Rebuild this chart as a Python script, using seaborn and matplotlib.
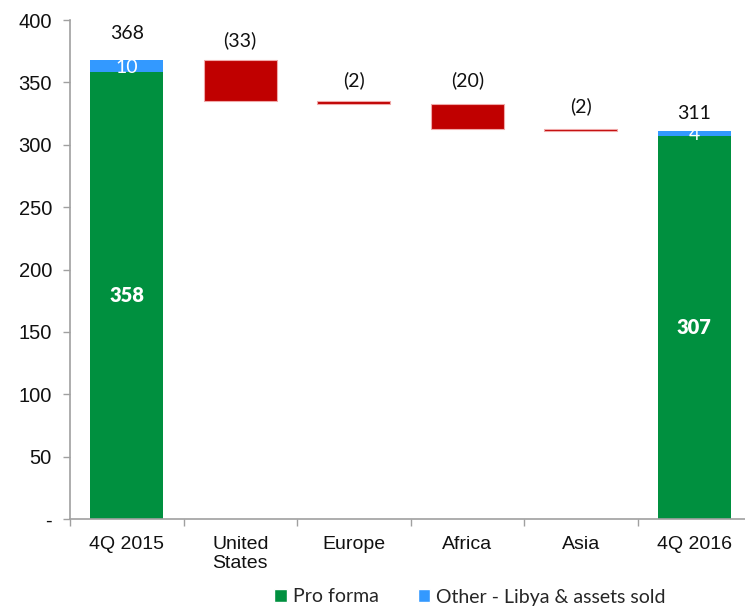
import matplotlib
matplotlib.use("Agg")
import matplotlib.pyplot as plt
from matplotlib.patches import Patch
import numpy as np
import pandas as pd
import seaborn as sns

# Production bridge (kboe/d), 4Q 2015 -> 4Q 2016
categories = ["4Q 2015", "United\nStates", "Europe", "Africa", "Asia", "4Q 2016"]
pro_forma = [358, 307]          # green part of the two total bars
other_sold = [10, 4]            # Libya & assets sold (blue cap)
changes = [-33, -2, -20, -2]    # regional movements

GREEN = "#00903F"
BLUE = "#3399FF"
RED = "#C00000"

sns.set_theme(style="white")
plt.rcParams["font.family"] = ["Liberation Sans", "DejaVu Sans"]

totals = [p + o for p, o in zip(pro_forma, other_sold)]
start = totals[0]
tops = start + np.concatenate([[0], np.cumsum(changes)[:-1]])
bottoms = tops + np.array(changes)

total_df = pd.DataFrame({
    "cat": [categories[0], categories[-1]],
    "pro_forma": pro_forma,
    "other": other_sold,
    "total": totals,
})
delta_df = pd.DataFrame({
    "cat": categories[1:-1],
    "height": -np.array(changes),
    "base": bottoms,
})

fig = plt.figure(figsize=(7.45, 6.07), dpi=100)
ax = fig.add_axes([70 / 745, 88 / 607, 681 / 745, 499 / 607])

order = categories
bw = 0.64
# total bars: blue full height, green pro-forma on top of it
sns.barplot(data=total_df, x="cat", y="total", order=order, color=BLUE,
            width=bw, saturation=1, ax=ax, linewidth=0)
sns.barplot(data=total_df, x="cat", y="pro_forma", order=order, color=GREEN,
            width=bw, saturation=1, ax=ax, linewidth=0)
# floating red decrease bars
sns.barplot(data=delta_df, x="cat", y="height", order=order, color=RED,
            width=bw, saturation=1, ax=ax, bottom=delta_df["base"].values,
            edgecolor="#F0A8A8", linewidth=0.8)

label_font = ["Lato", "DejaVu Sans"]
# labels inside total bars
for xi, p, o in [(0, pro_forma[0], other_sold[0]), (5, pro_forma[1], other_sold[1])]:
    ax.text(xi, p / 2, f"{p}", color="white", ha="center", va="center",
            fontsize=14.5, fontweight="heavy", family=label_font)
    ax.text(xi, p + o / 2 - 1.0, f"{o}", color="white", ha="center", va="center",
            fontsize=14, family=label_font)

# value labels above the bars
px_per_unit = 499 / 400
for xi, t, off in [(0, totals[0], 26), (5, totals[1], 18)]:
    ax.text(xi, t + off / px_per_unit, f"{t}", ha="center", va="center",
            fontsize=14, color="#111111", family=label_font)
for i, (c, top) in enumerate(zip(changes, tops)):
    off = [20, 21, 23, 22][i]
    ax.text(i + 1, top + off / px_per_unit, f"({abs(c)})", ha="center", va="center",
            fontsize=14, color="#111111", family=label_font)

ax.set_xlim(-0.5, 5.5)
ax.set_ylim(0, 400)
ax.set_xlabel("")
ax.set_ylabel("")

yt = np.arange(0, 401, 50)
ax.set_yticks(yt)
ax.set_yticklabels(["-" if v == 0 else str(v) for v in yt], fontsize=14.5)
ax.set_xticks(range(len(categories)))
ax.set_xticklabels(categories, fontsize=14, linespacing=1.15)
ax.set_xticks(np.arange(-0.5, 6, 1), minor=True)
ax.tick_params(axis="x", which="major", length=0, pad=12, colors="#111111")
ax.tick_params(axis="x", which="minor", length=5, width=1, color="#A0A0A0",
               direction="out", bottom=True)
ax.tick_params(axis="y", length=5, width=1, color="#A0A0A0", direction="out",
               left=True, pad=8, colors="#111111")
ax.tick_params(axis="y", color="#A0A0A0")

for s in ["top", "right"]:
    ax.spines[s].set_visible(False)
for s in ["left", "bottom"]:
    ax.spines[s].set_color("#A0A0A0")
    ax.spines[s].set_linewidth(1.2)

handles = [Patch(facecolor=GREEN, label="Pro forma"),
           Patch(facecolor=BLUE, label="Other - Libya & assets sold")]
fig.legend(handles=handles, loc="center", bbox_to_anchor=(470 / 745, 10 / 607),
           ncol=2, frameon=False, prop={"family": label_font, "size": 14},
           handlelength=0.65, handleheight=0.65, handletextpad=0.3,
           columnspacing=2.0, borderpad=0)

fig.savefig("out.png", dpi=100)
